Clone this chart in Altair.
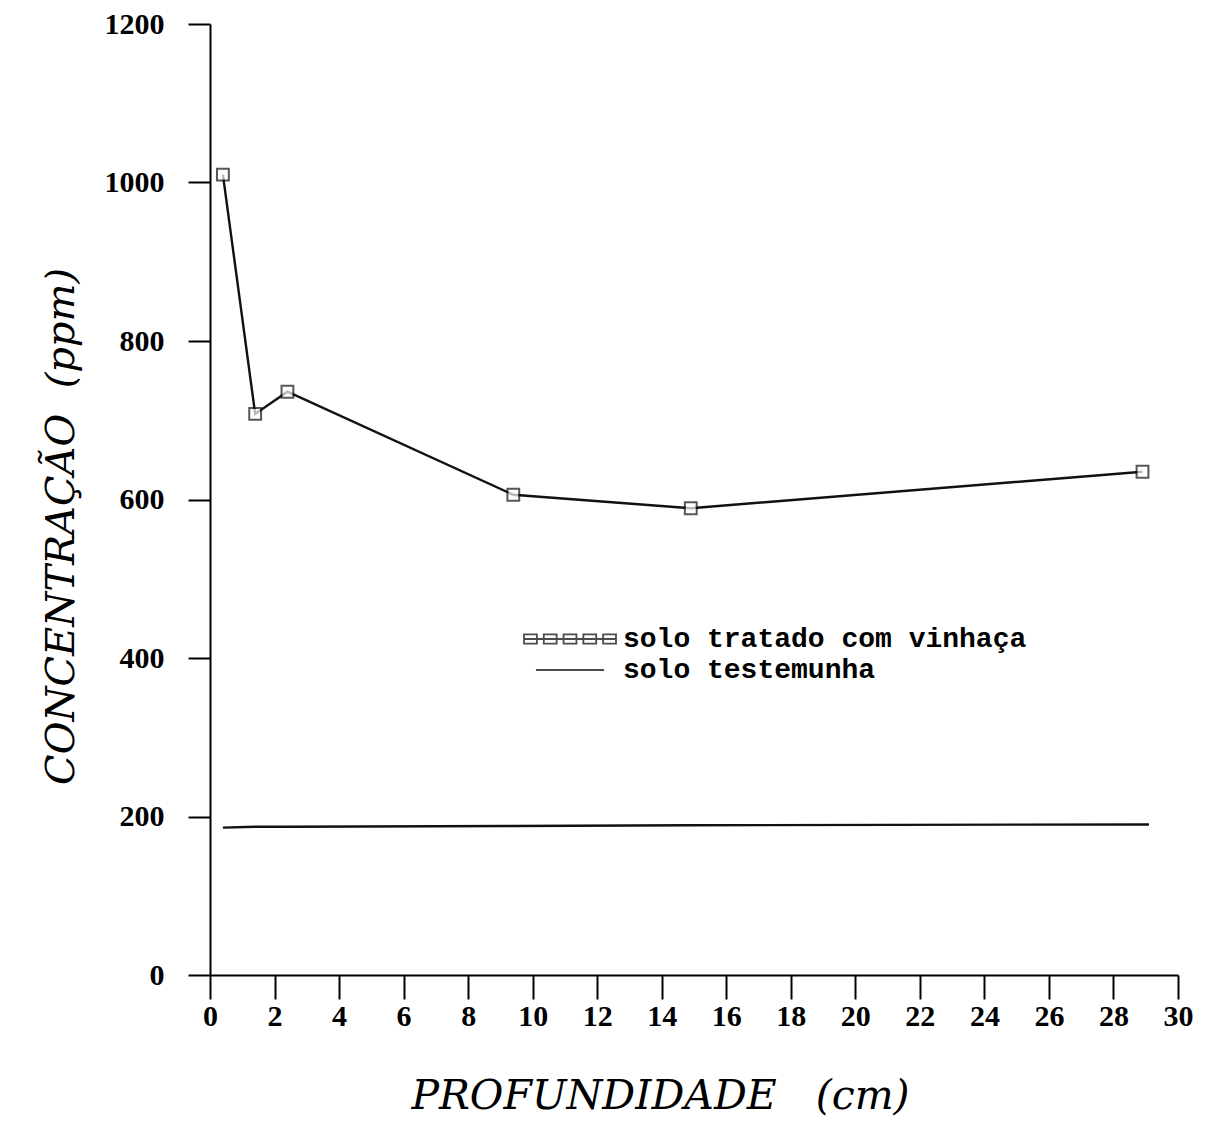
import altair as alt
import pandas as pd

# ---- data ----
series_names = ["solo tratado com vinhaça", "solo testemunha"]
depth_vinhaca = [0.4, 1.4, 2.4, 9.4, 14.9, 28.9]
conc_vinhaca = [1010, 708, 736, 606, 589, 635]
depth_testemunha = [0.4, 1.4, 2.4, 9.4, 14.9, 29.1]
conc_testemunha = [186, 187, 187, 188, 189, 190]
x_ticks = [0, 2, 4, 6, 8, 10, 12, 14, 16, 18, 20, 22, 24, 26, 28, 30]
y_ticks = [0, 200, 400, 600, 800, 1000, 1200]

df = pd.DataFrame({
    "serie": [series_names[0]] * len(depth_vinhaca) + [series_names[1]] * len(depth_testemunha),
    "prof": depth_vinhaca + depth_testemunha,
    "conc": conc_vinhaca + conc_testemunha,
    "ordem": list(range(len(depth_vinhaca))) + list(range(len(depth_testemunha))),
})

# legend symbols: five boxed squares on a line / a plain line
sq = []
for left in [-1.0, -0.57, -0.14, 0.29, 0.72]:
    sq.append(f"M{left},-0.1h0.28v0.2h-0.28Z")
path_squares = "M-1,0H1 " + " ".join(sq)
path_line = "M-0.74,0H0.74"

SERIF = "DejaVu Serif"
LABEL_FONT = "Liberation Serif"

x_enc = alt.X(
    "prof:Q",
    scale=alt.Scale(domain=[0, 30], nice=False, zero=False),
    axis=alt.Axis(
        values=x_ticks, grid=False, tickSize=24, tickWidth=2, domainWidth=2,
        labelFont=LABEL_FONT, labelFontSize=30, labelFontWeight="bold", labelPadding=2,
        labelFlush=False, labelOverlap=False, labelColor="black", format="d",
        title="PROFUNDIDADE\u00a0\u00a0\u00a0(cm)", titleFont=SERIF, titleFontSize=41,
        titleFontStyle="italic", titleFontWeight="normal", titleColor="black",
        titleX=450, titleY=133, titleBaseline="alphabetic", titleAlign="center",
        domainColor="black", tickColor="black",
    ),
)
y_enc = alt.Y(
    "conc:Q",
    scale=alt.Scale(domain=[0, 1200], nice=False),
    axis=alt.Axis(
        values=y_ticks, grid=False, tickSize=22, tickWidth=2, domainWidth=2,
        labelFont=LABEL_FONT, labelFontSize=30, labelFontWeight="bold", labelPadding=24,
        labelFlush=False, labelOverlap=False, labelColor="black", format="d",
        title="CONCENTRAÇÃO\u00a0\u00a0(ppm)", titleFont=SERIF, titleFontSize=40,
        titleFontStyle="italic", titleFontWeight="normal", titleColor="black",
        titleX=-137, titleY=502, titleAngle=270, titleBaseline="alphabetic",
        titleAlign="center", domainColor="black", tickColor="black",
    ),
)

base = alt.Chart(df).encode(x=x_enc, y=y_enc)

lines = base.mark_line(color="#111111", strokeWidth=2.4).encode(
    detail="serie:N", order="ordem:Q"
)

points = base.transform_filter(alt.datum.serie == series_names[0]).mark_point(
    shape="square", filled=True, fill="white", stroke="#111111", strokeWidth=2, size=140
)

legend_layer = base.transform_filter("false").mark_point(
    filled=False, color="black"
).encode(
    shape=alt.Shape(
        "serie:N",
        scale=alt.Scale(domain=series_names, range=[path_squares, path_line]),
        title=None,
        legend=alt.Legend(
            orient="none", legendX=313, legendY=601, padding=0,
            labelFont="Liberation Mono", labelFontSize=28, labelFontWeight="bold",
            labelColor="black", labelLimit=1000, labelOffset=6,
            symbolSize=8464, symbolStrokeWidth=1.8, symbolStrokeColor="black",
            symbolFillColor="transparent", symbolOffset=0, clipHeight=28,
            rowPadding=3,
        ),
    )
)

chart = (
    alt.layer(lines, points, legend_layer)
    .properties(
        width=968, height=951,
        autosize=alt.AutoSizeParams(type="none"),
        padding={"left": 202, "top": 16, "right": 30, "bottom": 150},
        background="white",
    )
    .configure_view(stroke=None)
)

chart.save("out.html", embed_options={"renderer": "svg", "actions": False})
